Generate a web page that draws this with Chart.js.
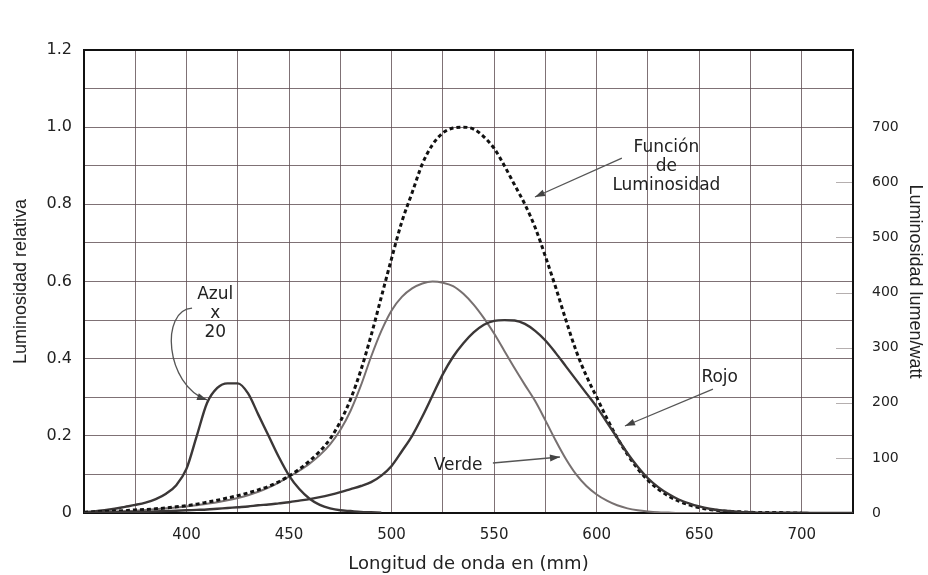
<!DOCTYPE html>
<html lang="es">
<head>
<meta charset="utf-8">
<title>Luminosidad relativa</title>
<script src="https://cdn.jsdelivr.net/npm/chart.js@4"></script>
<style>
  html, body { margin: 0; padding: 0; background: #fff; }
</style>
</head>
<body>
<canvas id="grafico" width="928" height="575"></canvas>
<script>
// longitudes de onda (nm), paso de 5
const longitudes = [
  350, 355, 360, 365, 370, 375, 380, 385, 390, 395,
  400, 405, 410, 415, 420, 425, 430, 435, 440, 445,
  450, 455, 460, 465, 470, 475, 480, 485, 490, 495,
  500, 505, 510, 515, 520, 525, 530, 535, 540, 545,
  550, 555, 560, 565, 570, 575, 580, 585, 590, 595,
  600, 605, 610, 615, 620, 625, 630, 635, 640, 645,
  650, 655, 660, 665, 670, 675, 680, 685, 690, 695,
  700, 705, 710, 715, 720, 725
];

// función de luminosidad (punteada), 350..700
const luminosidad = [
  0.002, 0.003, 0.004, 0.005, 0.006, 0.008, 0.009, 0.011, 0.013, 0.016,
  0.019, 0.023, 0.028, 0.033, 0.039, 0.045, 0.052, 0.060, 0.069, 0.081,
  0.096, 0.114, 0.135, 0.160, 0.192, 0.237, 0.295, 0.370, 0.460, 0.560,
  0.660, 0.755, 0.830, 0.905, 0.955, 0.985, 0.998, 1.000, 0.995, 0.975,
  0.945, 0.900, 0.850, 0.800, 0.740, 0.665, 0.585, 0.500, 0.420, 0.355,
  0.300, 0.245, 0.195, 0.152, 0.115, 0.085, 0.062, 0.044, 0.031, 0.021,
  0.014, 0.009, 0.006, 0.004, 0.003, 0.002, 0.001, 0.001, 0.001, 0.000,
  0.000
];

const verde = [
  0.001, 0.002, 0.003, 0.004, 0.005, 0.006, 0.008, 0.010, 0.012, 0.014,
  0.017, 0.020, 0.024, 0.028, 0.033, 0.039, 0.046, 0.055, 0.066, 0.079,
  0.094, 0.110, 0.128, 0.150, 0.178, 0.215, 0.265, 0.330, 0.405, 0.472,
  0.525, 0.560, 0.582, 0.595, 0.600, 0.597, 0.588, 0.568, 0.540, 0.505,
  0.465, 0.420, 0.375, 0.332, 0.290, 0.240, 0.188, 0.140, 0.100, 0.070,
  0.048, 0.032, 0.020, 0.012, 0.007, 0.004, 0.002, 0.001, 0.000, 0.000,
  0.000, 0.000, 0.000
];

const rojo = [
  0.000, 0.001, 0.001, 0.002, 0.002, 0.003, 0.003, 0.004, 0.005, 0.006,
  0.007, 0.008, 0.009, 0.011, 0.013, 0.015, 0.017, 0.020, 0.022, 0.025,
  0.028, 0.032, 0.036, 0.041, 0.047, 0.054, 0.062, 0.070, 0.080, 0.097,
  0.122, 0.160, 0.200, 0.250, 0.305, 0.360, 0.405, 0.440, 0.468, 0.488,
  0.498, 0.500, 0.499, 0.490, 0.472, 0.447, 0.415, 0.380, 0.345, 0.310,
  0.275, 0.235, 0.195, 0.155, 0.120, 0.090, 0.067, 0.049, 0.035, 0.025,
  0.017, 0.011, 0.007, 0.005, 0.003, 0.002, 0.001, 0.001, 0.001, 0.001,
  0.001, 0.000, 0.000, 0.000, 0.000, 0.000
];

// azul (x 20), 350..495
const azul = [
  0.002, 0.004, 0.007, 0.011, 0.016, 0.021, 0.027, 0.036, 0.050, 0.072,
  0.115, 0.200, 0.285, 0.324, 0.336, 0.336, 0.310, 0.255, 0.200, 0.145,
  0.097, 0.062, 0.037, 0.021, 0.012, 0.007, 0.005, 0.003, 0.002, 0.001
];

// etiquetas del eje derecho (lumen/watt)
const ticksLumen = [0, 100, 200, 300, 400, 500, 600, 700];

const puntos = serie => serie.map((y, i) => ({ x: longitudes[i], y: y }));

const colorTexto = '#222';
const colorRejilla = 'rgba(95, 78, 82, 0.8)';
const fuente = 'DejaVu Sans';

// notas sobre el grafico, en unidades de datos
const notas = [
  { texto: ['Función', 'de', 'Luminosidad'], x: 634, y: 0.948,
    flecha: [612.3, 0.92, 569.9, 0.819] },
  { texto: ['Rojo'], x: 660, y: 0.352, flecha: [656.7, 0.321, 613.8, 0.2255] },
  { texto: ['Verde'], x: 532.4, y: 0.124, flecha: [549.4, 0.1296, 582.1, 0.1451] },
  { texto: ['Azul', 'x', '20'], x: 414, y: 0.565,
    curva: [402.7, 0.531, 387.1, 0.526, 389.5, 0.332, 410.0, 0.293] }
];

function puntaFlecha(ctx, x0, y0, x1, y1) {
  const a = Math.atan2(y1 - y0, x1 - x0);
  ctx.beginPath();
  ctx.moveTo(x1, y1);
  ctx.lineTo(x1 - 10 * Math.cos(a) + 3.5 * Math.sin(a), y1 - 10 * Math.sin(a) - 3.5 * Math.cos(a));
  ctx.lineTo(x1 - 10 * Math.cos(a) - 3.5 * Math.sin(a), y1 - 10 * Math.sin(a) + 3.5 * Math.cos(a));
  ctx.closePath();
  ctx.fill();
}

const marco = {
  id: 'marco',
  beforeDatasetsDraw(chart) {
    const { ctx, chartArea: a, scales } = chart;
    ctx.save();
    // marcas cortas hacia dentro del eje derecho
    ctx.strokeStyle = 'rgba(120, 110, 110, 0.55)';
    ctx.lineWidth = 1;
    ticksLumen.forEach(v => {
      const py = Math.round(scales.y2.getPixelForValue(v)) + 0.5;
      ctx.beginPath();
      ctx.moveTo(a.right - 17, py);
      ctx.lineTo(a.right, py);
      ctx.stroke();
    });
    ctx.strokeStyle = '#111';
    ctx.lineWidth = 2;
    ctx.strokeRect(a.left, a.top, a.right - a.left, a.bottom - a.top);
    ctx.restore();
  },
  afterDatasetsDraw(chart) {
    const { ctx, scales } = chart;
    const px = v => scales.x.getPixelForValue(v);
    const py = v => scales.y.getPixelForValue(v);
    ctx.save();
    ctx.fillStyle = colorTexto;
    ctx.font = '17px "' + fuente + '"';
    ctx.textAlign = 'center';
    ctx.textBaseline = 'middle';
    notas.forEach(n => {
      n.texto.forEach((t, i) => ctx.fillText(t, px(n.x), py(n.y) + i * 19));
      ctx.strokeStyle = '#555';
      ctx.fillStyle = '#444';
      ctx.lineWidth = 1.3;
      if (n.flecha) {
        const [x0, y0, x1, y1] = n.flecha;
        ctx.beginPath();
        ctx.moveTo(px(x0), py(y0));
        ctx.lineTo(px(x1), py(y1));
        ctx.stroke();
        puntaFlecha(ctx, px(x0), py(y0), px(x1), py(y1));
      }
      if (n.curva) {
        const c = n.curva;
        ctx.beginPath();
        ctx.moveTo(px(c[0]), py(c[1]));
        ctx.bezierCurveTo(px(c[2]), py(c[3]), px(c[4]), py(c[5]), px(c[6]), py(c[7]));
        ctx.stroke();
        puntaFlecha(ctx, px(c[4]), py(c[5]), px(c[6]), py(c[7]));
      }
      ctx.fillStyle = colorTexto;
    });
    ctx.restore();
  }
};

const ctx = document.getElementById('grafico').getContext('2d');

new Chart(ctx, {
  type: 'line',
  data: {
    datasets: [
      {
        label: 'Rojo',
        data: puntos(rojo),
        borderColor: '#3b3737',
        borderWidth: 2.4,
        order: 1
      },
      {
        label: 'Función de Luminosidad',
        data: puntos(luminosidad),
        borderColor: '#111',
        borderWidth: 3,
        borderDash: [4, 3],
        order: 2
      },
      {
        label: 'Azul x 20',
        data: puntos(azul),
        borderColor: '#3b3737',
        borderWidth: 2.4,
        order: 3
      },
      {
        label: 'Verde',
        data: puntos(verde),
        borderColor: '#777070',
        borderWidth: 2,
        order: 4
      }
    ]
  },
  options: {
    responsive: false,
    animation: false,
    elements: {
      point: { radius: 0 },
      line: { cubicInterpolationMode: 'monotone', fill: false }
    },
    layout: { padding: { top: 50, left: 0, right: 0, bottom: 0 } },
    scales: {
      x: {
        type: 'linear',
        min: 350,
        max: 725,
        afterFit: s => { s.height = 62; },
        ticks: {
          stepSize: 25,
          autoSkip: false,
          maxRotation: 0,
          padding: 13,
          color: colorTexto,
          font: { family: fuente, size: 15 },
          callback: v => (v % 50 === 0 && v >= 400 && v <= 700) ? String(v) : ''
        },
        grid: { color: colorRejilla, lineWidth: 1, drawTicks: false },
        border: { color: '#111', width: 2 },
        title: {
          display: true,
          text: 'Longitud de onda en (mm)',
          color: colorTexto,
          font: { family: fuente, size: 18 },
          padding: { top: 0, bottom: 0 }
        }
      },
      y: {
        position: 'left',
        min: 0,
        max: 1.2,
        afterFit: s => { s.width = 84; },
        ticks: {
          stepSize: 0.1,
          autoSkip: false,
          padding: 12,
          color: colorTexto,
          font: { family: fuente, size: 16 },
          callback: v => {
            const d = Math.round(v * 10);
            if (d % 2) return '';
            return d === 0 ? '0' : (d / 10).toFixed(1);
          }
        },
        grid: { color: colorRejilla, lineWidth: 1, drawTicks: false },
        border: { color: '#111', width: 2 },
        title: {
          display: true,
          text: 'Luminosidad relativa',
          color: colorTexto,
          font: { family: 'Liberation Sans', size: 18 },
          padding: { top: 10, bottom: 0 }
        }
      },
      y2: {
        position: 'right',
        min: 0,
        max: 840,
        afterFit: s => { s.width = 75; },
        afterBuildTicks: s => { s.ticks = ticksLumen.map(v => ({ value: v })); },
        ticks: {
          autoSkip: false,
          padding: 19,
          color: colorTexto,
          font: { family: fuente, size: 14 }
        },
        grid: { drawOnChartArea: false, drawTicks: false },
        border: { color: '#111', width: 2 },
        title: {
          display: true,
          text: 'Luminosidad lumen/watt',
          color: colorTexto,
          font: { family: 'Liberation Sans', size: 18 },
          padding: { top: 2, bottom: 0 }
        }
      }
    },
    plugins: {
      legend: { display: false },
      tooltip: { enabled: false }
    }
  },
  plugins: [marco]
});
</script>
</body>
</html>
